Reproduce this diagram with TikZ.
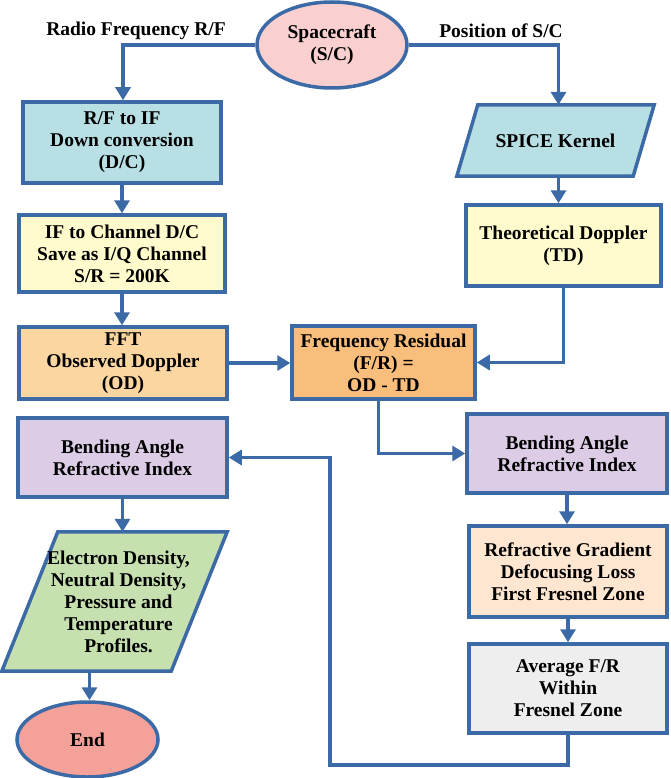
\documentclass[tikz,border=0pt]{standalone}
\usepackage{fontspec}
\setmainfont{Liberation Serif}
\usepackage{tikz}
\usetikzlibrary{arrows.meta,shapes.geometric,positioning}
\definecolor{flowblue}{RGB}{60,106,166}
\definecolor{scpink}{RGB}{249,207,207}
\definecolor{boxcyan}{RGB}{183,223,228}
\definecolor{boxyellow}{RGB}{255,251,204}
\definecolor{boxorange}{RGB}{252,214,160}
\definecolor{resorange}{RGB}{249,190,124}
\definecolor{boxlilac}{RGB}{220,204,230}
\definecolor{boxpeach}{RGB}{255,230,208}
\definecolor{boxgrey}{RGB}{238,238,238}
\definecolor{boxgreen}{RGB}{198,224,176}
\definecolor{endred}{RGB}{244,161,154}
\tikzset{
  txt/.style={font=\bfseries\fontsize{19.5}{22}\selectfont, align=center},
  block/.style={txt, draw=flowblue, line width=3.5pt, inner sep=0pt},
  stepbox/.style={block, rectangle},
  oval/.style={block, ellipse},
  frame/.style={inner sep=0pt},
  outline/.style={draw=flowblue, line width=3.5pt, line join=miter},
  flow/.style={draw=flowblue, line width=3.5pt, -{Triangle[width=15pt,length=13pt]}},
}
% parallelogram round an empty frame node: #1 node, #2 shift, #3 fill
\newcommand{\slantframe}[3]{%
  \draw[outline, fill=#3] (#1.south west) -- ([xshift=-#2]#1.south east)
    -- (#1.north east) -- ([xshift=#2]#1.north west) -- cycle;}
\begin{document}
\begin{tikzpicture}[x=1pt,y=-1pt]
  \useasboundingbox[fill=white] (0,0) rectangle (671,778);
  % start and end
  \node[oval, fill=scpink, minimum width=150pt, minimum height=86pt] (sc) at (332,45) {Spacecraft\\(S/C)};
  \node[oval, fill=endred, minimum width=141pt, minimum height=75pt] (end) at (87.5,739.5) {End};
  % labels on the top lines
  \node[txt] (rflabel) at (136,31) {Radio Frequency R/F};
  \node[txt] (poslabel) at (501,31) {Position of S/C};
  % left column
  \node[stepbox, fill=boxcyan, minimum width=198pt, minimum height=81pt] (rfif) at (122,142.5) {R/F to IF\\Down conversion\\(D/C)};
  \node[stepbox, fill=boxyellow, minimum width=206pt, minimum height=77pt] (ifch) at (122,253.5) {IF to Channel D/C\\Save as I/Q Channel\\S/R = 200K};
  \node[stepbox, fill=boxorange, minimum width=208pt, minimum height=72pt] (fft) at (123,363) {FFT\\Observed Doppler\\(OD)};
  \node[stepbox, fill=resorange, minimum width=183pt, minimum height=73pt] (fr) at (383.5,362.5) {Frequency Residual\\(F/R) =\\OD - TD};
  \node[stepbox, fill=boxlilac, minimum width=209pt, minimum height=79pt] (bendl) at (122.5,457.5) {Bending Angle\\Refractive Index};
  \node[frame, minimum width=225pt, minimum height=139pt] (elec) at (114.5,601.5) {};
  \slantframe{elec}{56pt}{boxgreen}
  \node[txt] (electext) at ([xshift=4pt]elec.center) {Electron Density,\\Neutral Density,\\Pressure and\\Temperature\\Profiles.};
  % right column
  \node[frame, minimum width=197pt, minimum height=71pt] (spice) at (555.5,140.5) {};
  \slantframe{spice}{21pt}{boxcyan}
  \node[txt] (spicetext) at (spice.center) {SPICE Kernel};
  \node[stepbox, fill=boxyellow, minimum width=195pt, minimum height=81pt] (td) at (563.5,245.5) {Theoretical Doppler\\(TD)};
  \node[stepbox, fill=boxlilac, minimum width=200pt, minimum height=79pt] (bendr) at (567,453.5) {Bending Angle\\Refractive Index};
  \node[stepbox, fill=boxpeach, minimum width=198pt, minimum height=91pt] (grad) at (568,571.5) {Refractive Gradient\\Defocusing Loss\\First Fresnel Zone};
  \node[stepbox, fill=boxgrey, minimum width=198pt, minimum height=89pt] (avg) at (568,688.5) {Average F/R\\Within\\Fresnel Zone};
  \coordinate (back) at (330,765);
  % connectors
  \draw[flow] (sc.west) -| ([xshift=1pt]rfif.north);
  \draw[flow] (sc.east) -| ([xshift=3pt]spice.north);
  \draw[flow] (rfif.south) -- (rfif.south |- ifch.north);
  \draw[flow] (ifch.south) -- (ifch.south |- fft.north);
  \draw[flow] (fft.east) -- (fft.east -| fr.west);
  \draw[flow] ([xshift=3pt]spice.south) -- ([xshift=3pt]spice.south |- td.north);
  \draw[flow] (td.south) |- (fr.east);
  \draw[flow] ([xshift=-5pt]fr.south) |- (bendr.west);
  \draw[flow] (bendr.south) -- (bendr.south |- grad.north);
  \draw[flow] (grad.south) -- (grad.south |- avg.north);
  \draw[flow] (avg.south) |- (back) |- (bendl.east);
  \draw[flow] (bendl.south) -- (bendl.south |- elec.north);
  \draw[flow] ([xshift=2pt]end.north |- elec.south) -- ([xshift=2pt]end.north);
\end{tikzpicture}
\end{document}
